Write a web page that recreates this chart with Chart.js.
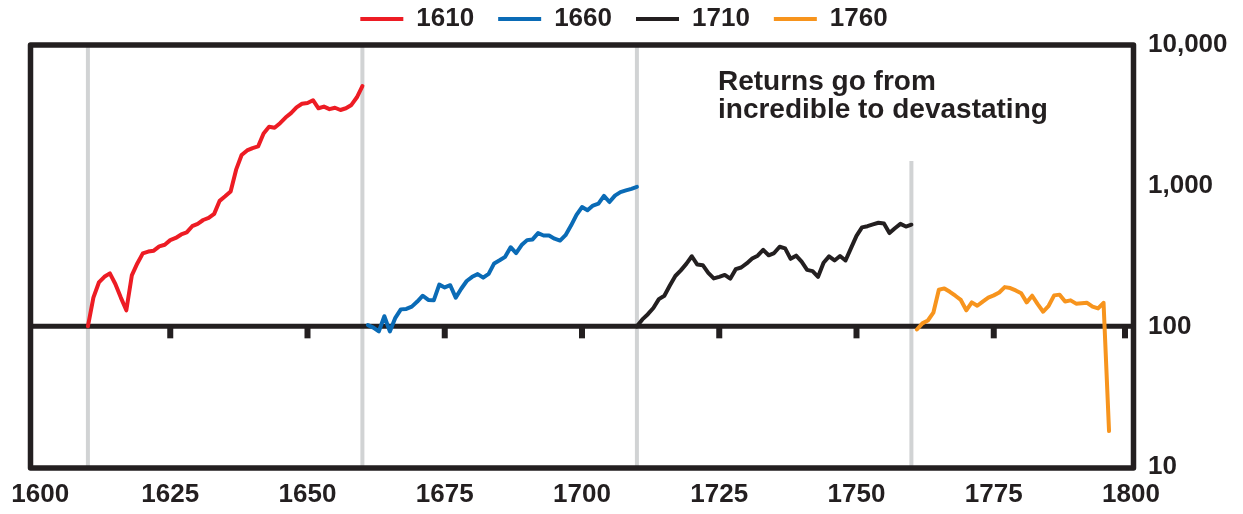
<!DOCTYPE html>
<html>
<head>
<meta charset="utf-8">
<script src="https://cdn.jsdelivr.net/npm/chart.js@4.4.1/dist/chart.umd.min.js"></script>
<style>
  html, body { margin: 0; padding: 0; background: #ffffff; }
  #wrap { position: relative; width: 1243px; height: 514px; }
</style>
</head>
<body>
<div id="wrap"><canvas id="c"></canvas></div>
<script>
// ---- data ----
const seriesNames = ['1610', '1660', '1710', '1760'];
const startYears = [1610, 1661, 1710, 1761];

const values1610 = [100, 160, 205, 225, 238, 200, 160, 130, 230, 280,
  330, 340, 345, 370, 380, 410, 425, 450, 465, 515,
  535, 570, 590, 630, 780, 840, 910, 1300, 1650, 1780,
  1850, 1900, 2350, 2620, 2580, 2780, 3050, 3280, 3600, 3820,
  3870, 4050, 3550, 3650, 3500, 3580, 3450, 3550, 3750, 4250,
  5100];

const values1660 = [102, 98, 92, 118, 92, 115, 132, 133, 138, 150,
  165, 154, 153, 198, 189, 196, 160, 185, 210, 225,
  235, 222, 236, 280, 295, 312, 365, 332, 378, 410,
  415, 460, 442, 442, 420, 407, 445, 520, 620, 705,
  668, 722, 745, 845, 765, 850, 900, 925, 950, 980];

const values1710 = [100, 112, 122, 135, 156, 165, 195, 228, 250, 278,
  315, 275, 272, 240, 219, 225, 232, 218, 255, 262,
  280, 303, 318, 350, 320, 332, 368, 358, 302, 318,
  288, 252, 247, 225, 283, 314, 294, 316, 294, 360,
  440, 505, 515, 530, 545, 538, 460, 498, 535, 512,
  528];

const values1760 = [95, 105, 110, 125, 182, 186, 176, 165, 154, 130,
  148, 140, 150, 160, 166, 174, 190, 187, 180, 172,
  148, 165, 144, 127, 140, 166, 168, 150, 153, 145,
  146, 147, 138, 134, 147, 18];

const seriesValues = [values1610, values1660, values1710, values1760];
const seriesColors = ['#ed1c24', '#0a6bb6', '#231f20', '#f7941d'];

const xTicks = [1600, 1625, 1650, 1675, 1700, 1725, 1750, 1775, 1800];
const yTicks = [10, 100, 1000, 10000];
const markerYears = [1610, 1660, 1710, 1760];
const lastMarkerTop = 1500;
const noteLines = ['Returns go from', 'incredible to devastating'];

// ---- chart ----
const INK = '#231f20';
const FONT = "'Liberation Sans', Arial, sans-serif";
Chart.defaults.font.family = FONT;
Chart.defaults.color = INK;

const datasets = seriesNames.map((name, s) => {
  const vals = seriesValues[s];
  return {
    label: name,
    data: vals.map((v, i) => ({ x: startYears[s] + i, y: v })),
    borderColor: seriesColors[s],
    backgroundColor: seriesColors[s],
    borderWidth: 4,
    pointRadius: 0,
    pointHoverRadius: 0,
    tension: 0,
    borderJoinStyle: 'round',
    borderCapStyle: 'round',
    fill: false
  };
});

const decorPlugin = {
  id: 'decor',
  afterLayout(chart) {
    const lg = chart.legend;
    if (lg) {
      lg.top = -18;
      lg.bottom = 45;
      lg.left -= 14;
      lg.right -= 14;
    }
  },
  beforeDatasetsDraw(chart) {
    const { ctx, chartArea: a, scales: { x, y } } = chart;
    ctx.save();
    ctx.strokeStyle = '#d1d3d4';
    ctx.lineWidth = 4;
    markerYears.forEach((yr, i) => {
      const px = x.getPixelForValue(yr);
      const top = i === markerYears.length - 1 ? y.getPixelForValue(lastMarkerTop) : a.top;
      ctx.beginPath();
      ctx.moveTo(px, top);
      ctx.lineTo(px, a.bottom);
      ctx.stroke();
    });
    const y100 = y.getPixelForValue(100);
    ctx.strokeStyle = INK;
    ctx.lineWidth = 5;
    ctx.beginPath();
    ctx.moveTo(a.left - 2.5, y100);
    ctx.lineTo(a.right + 2.5, y100);
    ctx.stroke();
    ctx.fillStyle = INK;
    xTicks.slice(1).forEach(v => {
      const px = Math.min(x.getPixelForValue(v), a.right - 6);
      ctx.fillRect(px - 3, y100, 6, 12);
    });
    ctx.restore();
  },
  afterDatasetsDraw(chart) {
    const { ctx, chartArea: a } = chart;
    ctx.save();
    ctx.strokeStyle = INK;
    ctx.lineWidth = 5.5;
    ctx.lineJoin = 'round';
    ctx.strokeRect(a.left - 2.5, a.top, a.right - a.left + 5, a.bottom - a.top + 1);
    ctx.restore();
  },
  afterDraw(chart) {
    const { ctx } = chart;
    ctx.save();
    ctx.fillStyle = INK;
    ctx.font = "bold 28px " + FONT;
    ctx.textAlign = 'left';
    ctx.textBaseline = 'alphabetic';
    ctx.fillText(noteLines[0], 718, 90);
    ctx.fillText(noteLines[1], 718, 118);
    ctx.restore();
  }
};

new Chart(document.getElementById('c'), {
  type: 'line',
  data: { datasets },
  options: {
    responsive: true,
    maintainAspectRatio: false,
    animation: false,
    layout: { padding: { top: 0, left: 33, right: 0, bottom: 0 } },
    plugins: {
      tooltip: { enabled: false },
      legend: {
        display: true,
        position: 'top',
        align: 'center',
        maxHeight: 45,
        labels: {
          usePointStyle: true,
          pointStyle: 'line',
          pointStyleWidth: 43,
          padding: 24,
          color: INK,
          font: { size: 26, weight: 'bold', family: FONT }
        }
      }
    },
    scales: {
      x: {
        type: 'linear',
        position: 'bottom',
        min: 1600,
        max: 1800,
        afterBuildTicks: s => { s.ticks = xTicks.map(v => ({ value: v })); },
        afterFit: s => { s.height = 47; s.paddingLeft = 0; s.paddingRight = 0; },
        grid: { display: false, drawTicks: false },
        border: { display: false },
        ticks: {
          autoSkip: false,
          maxRotation: 0,
          padding: 12,
          color: INK,
          font: { size: 26, weight: 'bold', family: FONT },
          callback: v => (v === 1600 ? '  ' + v : String(v))
        }
      },
      y: {
        type: 'logarithmic',
        position: 'right',
        min: 10,
        max: 10000,
        afterBuildTicks: s => { s.ticks = yTicks.map(v => ({ value: v })); },
        afterFit: s => { s.width = 112; s.paddingTop = 0; s.paddingBottom = 0; },
        grid: { display: false, drawTicks: false },
        border: { display: false },
        ticks: {
          padding: 17,
          color: INK,
          font: { size: 26, weight: 'bold', family: FONT },
          callback: v => Number(v).toLocaleString('en-US')
        }
      }
    }
  },
  plugins: [decorPlugin]
});
</script>
</body>
</html>
